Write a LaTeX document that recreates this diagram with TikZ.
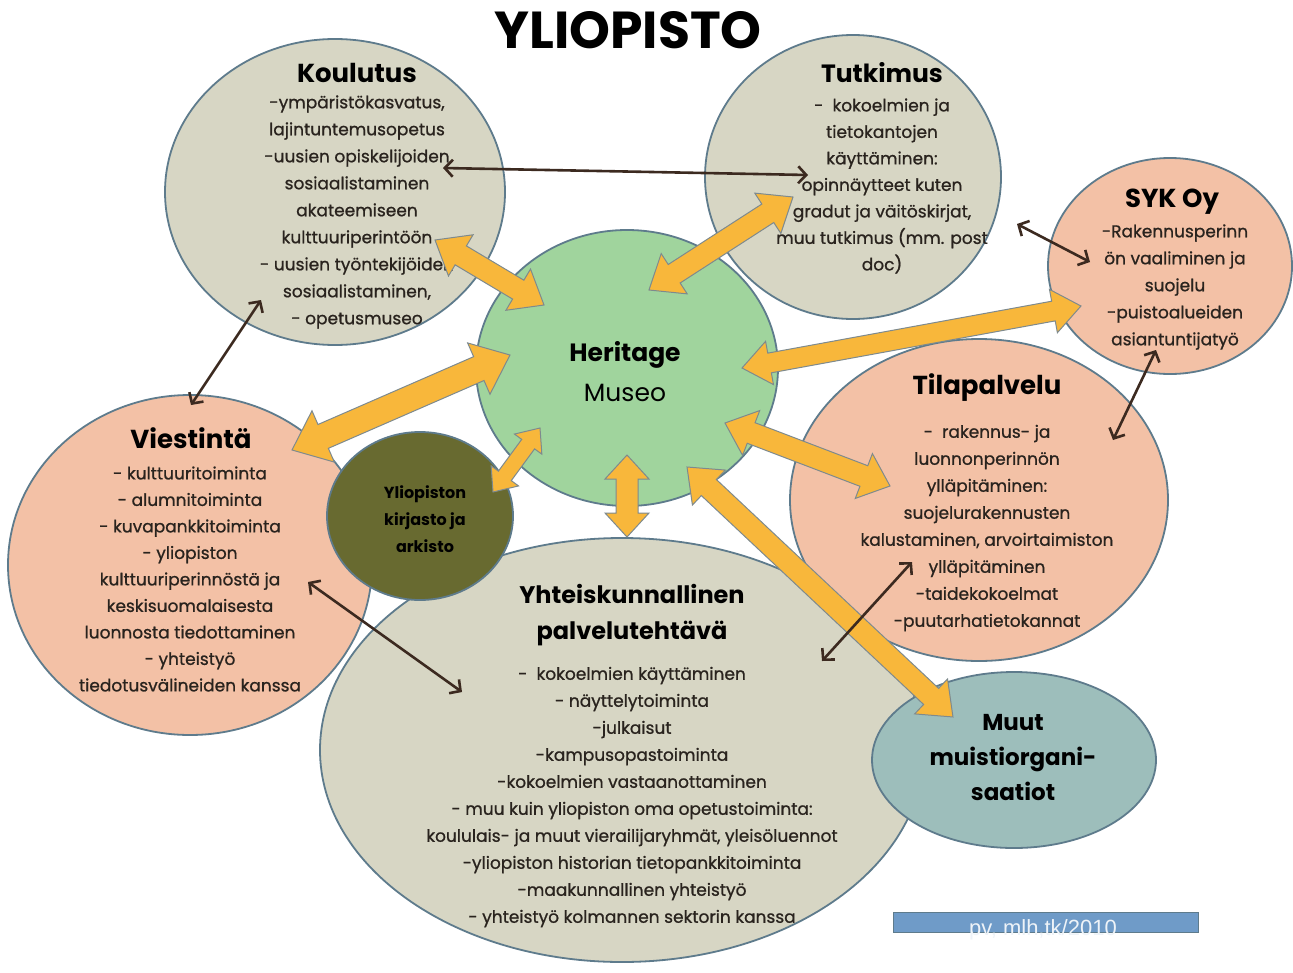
\documentclass[tikz,border=0pt]{standalone}
\usepackage{fontspec}
\setmainfont{Poppins}
\newfontfamily\bodyfont{Poppins}[FakeBold=0.9]
\newfontfamily\credfont{Liberation Sans}
\usetikzlibrary{shapes.geometric,arrows.meta,calc}
\definecolor{beige}{HTML}{D7D6C4}
\definecolor{peach}{HTML}{F3C1A6}
\definecolor{mint}{HTML}{A0D49D}
\definecolor{olive}{HTML}{686A30}
\definecolor{teal}{HTML}{9DBEBB}
\definecolor{edgec}{HTML}{5E7B8C}
\definecolor{arrfill}{HTML}{F8B73B}
\definecolor{arredge}{HTML}{7E8A8E}
\definecolor{thinarr}{HTML}{3C2A20}
\definecolor{txt}{HTML}{29231E}
\definecolor{barblue}{HTML}{6F9BC8}
\newcommand\fatarrow[5]{%
  \pgfpointdiff{\pgfpointanchor{#1}{center}}{\pgfpointanchor{#2}{center}}%
  \pgfgetlastxy{\myBdx}{\myBdy}%
  \pgfmathsetmacro\myBlen{veclen(\myBdx,\myBdy)}%
  \pgfmathsetmacro\myBang{atan2(\myBdy,\myBdx)}%
  \pgfmathsetmacro\myBln{\myBlen-#5}%
  \begin{scope}[shift={(#1)},rotate=\myBang]
    \filldraw[orangearrow] (0pt,0pt) -- (#5pt,#4pt) -- (#5pt,#3pt) -- (\myBln pt,#3pt) -- (\myBln pt,#4pt) -- (\myBlen pt,0pt) -- (\myBln pt,-#4pt) -- (\myBln pt,-#3pt) -- (#5pt,-#3pt) -- (#5pt,-#4pt) -- cycle;
  \end{scope}}
\tikzset{
  blob/.style={ellipse, draw=edgec, line width=1.8pt, inner sep=0pt},
  orangearrow/.style={fill=arrfill, draw=arredge, line width=1pt, line join=miter},
  thin/.style={draw=thinarr, line width=2.6pt, {Straight Barb[length=8pt,width=17pt]}-{Straight Barb[length=8pt,width=17pt]}},
  body/.style={align=center, text=txt, inner sep=0pt, font=\bodyfont\fontsize{17}{27}\selectfont},
  head/.style={align=center, text=black, inner sep=0pt, font=\bfseries\fontsize{26}{32}\selectfont},
}
\begin{document}
\begin{tikzpicture}[x=1pt,y=-1pt]
\useasboundingbox (0,0) rectangle (1293,972);
\fill[white] (0,0) rectangle (1293,972);
% ellipses
\node[blob, fill=beige, minimum width=604pt, minimum height=424pt] (yhteis) at (622,750) {};
\node[blob, fill=peach, minimum width=364pt, minimum height=340pt] (viest) at (190,565) {};
\node[blob, fill=beige, minimum width=340pt, minimum height=306pt] (koul) at (335,192) {};
\node[blob, fill=beige, minimum width=296pt, minimum height=284pt] (tutk) at (853,177) {};
\node[blob, fill=peach, minimum width=244pt, minimum height=216pt] (syk) at (1170,266) {};
\node[blob, fill=peach, minimum width=378pt, minimum height=322pt] (tila) at (979,500) {};
\node[blob, fill=mint, minimum width=302pt, minimum height=276pt] (herit) at (627,368) {};
\node[blob, fill=olive, minimum width=186pt, minimum height=168pt] (kirj) at (420,516) {};
\node[blob, fill=teal, minimum width=284pt, minimum height=176pt] (muut) at (1014,760) {};
% credit bar
\node[draw=edgec, fill=barblue, line width=0.8pt, minimum width=305pt, minimum height=20pt, inner sep=0pt] (bar) at (1045.5,922) {};
\node[text=white!88!barblue, font=\credfont\fontsize{22}{24}\selectfont, anchor=base, inner sep=0pt] (credit) at (1043,935) {pv, mlh,tk/2010};
% texts
\node[font=\bfseries\fontsize{52}{60}\selectfont, inner sep=0pt] (title) at (628,30) {YLIOPISTO};
\node[head] (koulT) at (357,73) {Koulutus};
\node[body] (koulB) at (357,212) {-ympäristökasvatus,\\lajintuntemusopetus\\-uusien opiskelijoiden\\sosiaalistaminen\\akateemiseen\\kulttuuriperintöön\\- uusien työntekijöiden\\sosiaalistaminen,\\- opetusmuseo};
\node[head, font=\bfseries\fontsize{25}{32}\selectfont] (tutkT) at (882,73) {Tutkimus};
\node[body, font=\bodyfont\fontsize{17}{26.5}\selectfont] (tutkB) at (882,186) {-\ \ kokoelmien ja\\tietokantojen\\käyttäminen:\\opinnäytteet kuten\\gradut ja väitöskirjat,\\muu tutkimus (mm. post\\doc)};
\node[head] (sykT) at (1172,202) {SYK Oy};
\node[body] (sykB) at (1175,287) {-Rakennusperinn\\ön vaaliminen ja\\suojelu\\-puistoalueiden\\asiantuntijatyö};
\node[head] (tilaT) at (987,388) {Tilapalvelu};
\node[body] (tilaB) at (987,528) {-\ \ rakennus- ja\\luonnonperinnön\\ylläpitäminen:\\suojelurakennusten\\kalustaminen, arvoirtaimiston\\ylläpitäminen\\-taidekokoelmat\\-puutarhatietokannat};
\node[head] (viestT) at (191,438) {Viestintä};
\node[body, font=\bodyfont\fontsize{17}{26.5}\selectfont] (viestB) at (190,579) {- kulttuuritoiminta\\- alumnitoiminta\\- kuvapankkitoiminta\\- yliopiston\\kulttuuriperinnöstä ja\\keskisuomalaisesta\\luonnosta tiedottaminen\\- yhteistyö\\tiedotusvälineiden kanssa};
\node[align=center, inner sep=0pt, font=\bfseries\fontsize{16}{27}\selectfont] (kirjT) at (425,519) {Yliopiston\\kirjasto ja\\arkisto};
\node[align=center, inner sep=0pt, font=\fontsize{25}{40}\selectfont] (heritT) at (625,372) {\textbf{Heritage}\\Museo};
\node[head, font=\bfseries\fontsize{24}{36}\selectfont] (yhteisT) at (632,615) {Yhteiskunnallinen\\palvelutehtävä};
\node[body] (yhteisB) at (632,797) {-\ \ kokoelmien käyttäminen\\- näyttelytoiminta\\-julkaisut\\-kampusopastoiminta\\-kokoelmien vastaanottaminen\\- muu kuin yliopiston oma opetustoiminta:\\koululais- ja muut vierailijaryhmät, yleisöluennot\\-yliopiston historian tietopankkitoiminta\\-maakunnallinen yhteistyö\\- yhteistyö kolmannen sektorin kanssa};
\node[head, font=\bfseries\fontsize{23}{35}\selectfont] (muutT) at (1013,758) {Muut\\muistiorgani-\\saatiot};
% arrow end points
\coordinate (oA1) at (435,240); \coordinate (oA2) at (544,305);
\coordinate (oB1) at (649,290); \coordinate (oB2) at (793,197);
\coordinate (oC1) at (742,368); \coordinate (oC2) at (1081,306);
\coordinate (oD1) at (292,450); \coordinate (oD2) at (510,355);
\coordinate (oE1) at (493,492); \coordinate (oE2) at (540,428);
\coordinate (oF1) at (627,455); \coordinate (oF2) at (627,537);
\coordinate (oG1) at (725,423); \coordinate (oG2) at (890,486);
\coordinate (oH1) at (687,467); \coordinate (oH2) at (953,717);
\fatarrow{oA1}{oA2}{11}{24}{30}
\fatarrow{oB1}{oB2}{11}{24}{30}
\fatarrow{oC1}{oC2}{10}{22}{28}
\fatarrow{oD1}{oD2}{13}{28}{34}
\fatarrow{oE1}{oE2}{8}{17}{20}
\fatarrow{oF1}{oF2}{11}{22}{24}
\fatarrow{oG1}{oG2}{11}{24}{28}
\fatarrow{oH1}{oH2}{11}{24}{30}
% thin arrows
\coordinate (ta1) at (443,168); \coordinate (ta2) at (808,175);
\coordinate (tb1) at (261,300); \coordinate (tb2) at (191,405);
\coordinate (tc1) at (1017,224); \coordinate (tc2) at (1090,262);
\coordinate (td1) at (1156,350); \coordinate (td2) at (1113,440);
\coordinate (te1) at (912,562); \coordinate (te2) at (822,661);
\coordinate (tf1) at (308,582); \coordinate (tf2) at (462,692);
\draw[thin] (ta1) -- (ta2);
\draw[thin] (tb1) -- (tb2);
\draw[thin] (tc1) -- (tc2);
\draw[thin] (td1) -- (td2);
\draw[thin] (te1) -- (te2);
\draw[thin] (tf1) -- (tf2);
\end{tikzpicture}
\end{document}
